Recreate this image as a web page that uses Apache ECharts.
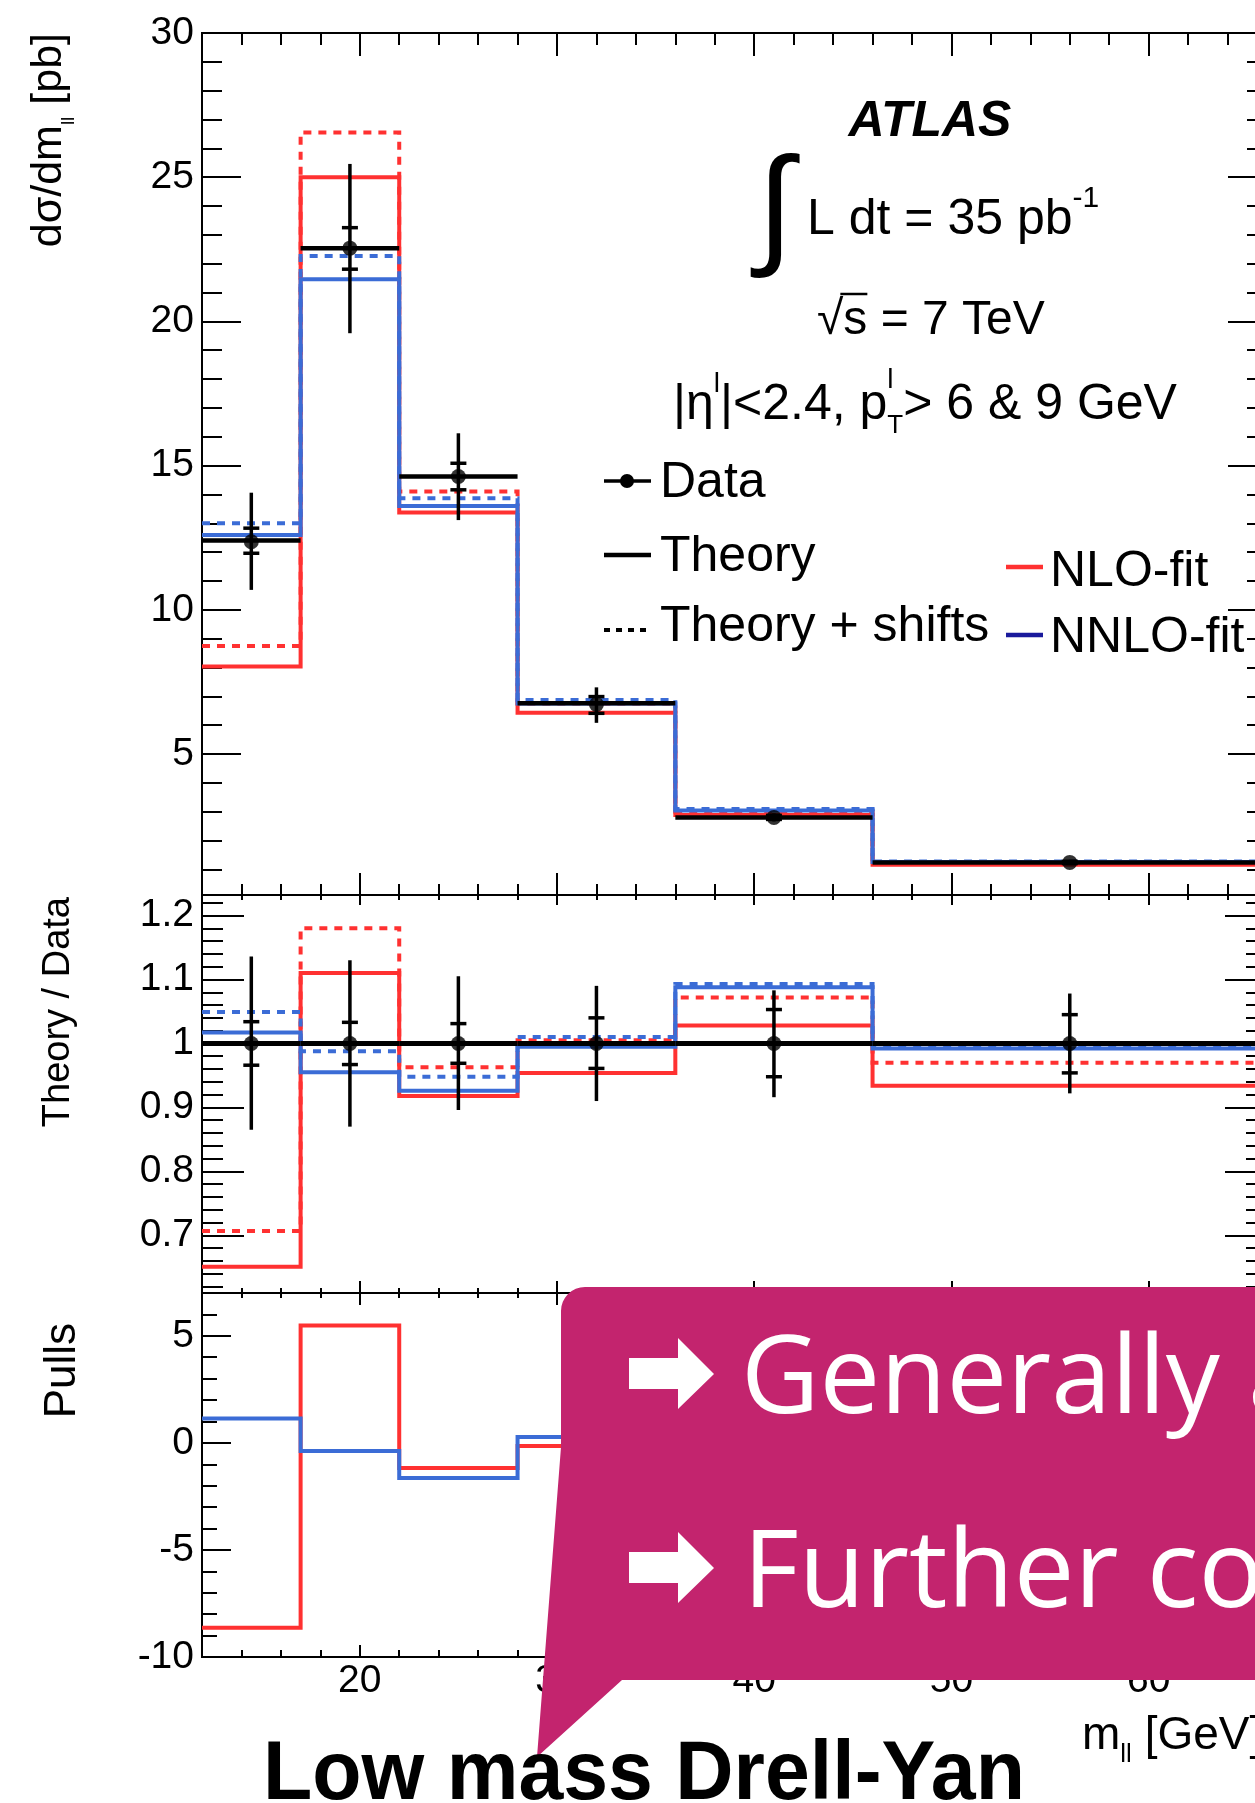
<!DOCTYPE html>
<html>
<head>
<meta charset="utf-8">
<title>Low mass Drell-Yan</title>
<script src="https://cdn.jsdelivr.net/npm/echarts@6.0.0/dist/echarts.min.js"></script>
<style>
  html, body { margin: 0; padding: 0; background: #fff; overflow: hidden; }
  #chart { width: 1290px; height: 1803px; }
</style>
</head>
<body>
<div id="chart"></div>
<script>
// m_ll binning [GeV]
const binEdges = [12, 17, 22, 28, 36, 46, 66];
const binCentres = [14.5, 19.5, 25, 32, 41, 56];

// top panel: dsigma/dm_ll [pb]
const xsecData = [12.36, 22.54, 14.62, 6.72, 2.80, 1.24];
const xsecTotLo = [10.69, 19.59, 13.11, 6.08, 2.66, 1.17];
const xsecTotHi = [14.06, 25.46, 16.12, 7.31, 2.94, 1.31];
const xsecStatLo = [11.96, 21.81, 14.16, 6.41, 2.73, 1.20];
const xsecStatHi = [12.83, 23.25, 15.08, 6.99, 2.87, 1.28];
const xsecTheory = [12.40, 22.54, 14.62, 6.76, 2.80, 1.24];
const xsecNlo = [8.03, 25.00, 13.37, 6.43, 2.88, 1.16];
const xsecNloShift = [8.74, 26.55, 14.10, 6.75, 3.00, 1.20];
const xsecNnlo = [12.59, 21.46, 13.60, 6.75, 3.04, 1.25];
const xsecNnloShift = [13.00, 22.27, 13.87, 6.87, 3.09, 1.27];

// middle panel: theory / data
const ratioData = [1, 1, 1, 1, 1, 1];
const ratioTotLo = [0.865, 0.870, 0.896, 0.910, 0.916, 0.922];
const ratioTotHi = [1.136, 1.130, 1.105, 1.090, 1.083, 1.078];
const ratioStatLo = [0.966, 0.967, 0.969, 0.961, 0.948, 0.954];
const ratioStatHi = [1.034, 1.033, 1.031, 1.040, 1.053, 1.045];
const ratioTheory = [1, 1, 1, 1, 1, 1];
const ratioNlo = [0.651, 1.110, 0.918, 0.954, 1.028, 0.934];
const ratioNloShift = [0.707, 1.180, 0.963, 1.005, 1.072, 0.970];
const ratioNnlo = [1.017, 0.955, 0.926, 0.995, 1.088, 0.992];
const ratioNnloShift = [1.049, 0.988, 0.948, 1.010, 1.093, 0.997];

// bottom panel: pulls
const pullNlo = [-8.63, 5.48, -1.17, -0.14, 0.5, -1.0];
const pullNnlo = [1.14, -0.38, -1.64, 0.28, 1.1, -0.1];

// tick labels
const xLabels = [20, 30, 40, 50, 60];
const xMinor = [14, 16, 18, 22, 24, 26, 28, 32, 34, 36, 38, 42, 44, 46, 48, 52, 54, 56, 58, 62, 64];
const xsecLabels = [5, 10, 15, 20, 25, 30];
const ratioLabels = [0.7, 0.8, 0.9, 1, 1.1, 1.2];
const pullLabels = [-10, -5, 0, 5];

const ROOT_FONT = '"Liberation Sans", Arial, Helvetica, sans-serif';
const SLIDE_FONT = '"Open Sans", "Noto Sans", sans-serif';
const RED = '#ff3131';
const BLUE = '#3b6cd6';
const NAVY = '#1a1a9c';
const PINK = '#c3246e';

function minorTicks(lo, hi, step, majors) {
  const out = [];
  const n = Math.round((hi - lo) / step);
  for (let i = 0; i <= n; i++) {
    const v = +(lo + i * step).toFixed(4);
    if (!majors.some(m => Math.abs(m - v) < 1e-6)) out.push(v);
  }
  return out;
}

const panels = [
  { top: 33, height: 862, min: 0.11, max: 30, labels: xsecLabels, minor: minorTicks(1, 29, 1, xsecLabels),
    yLen: [39, 20], topLen: [23, 12], botLen: [22, 11] },
  { top: 895, height: 398, min: 0.61, max: 1.232, labels: ratioLabels, minor: minorTicks(0.62, 1.22, 0.02, ratioLabels),
    yLen: [42, 21], topLen: [10, 5], botLen: [12, 5] },
  { top: 1293, height: 364, min: -10, max: 7, labels: pullLabels, minor: minorTicks(-9, 6, 1, pullLabels),
    yLen: [29, 15], topLen: [12, 5], botLen: [12, 7], xText: true }
];

function axis(grid, pos, min, max, ticks, len, labelValues, isX) {
  const a = {
    type: 'value', gridIndex: grid, position: pos, min, max, silent: true,
    axisLine: { show: true, onZero: false, lineStyle: { color: '#000', width: 2 } },
    axisTick: { show: true, inside: true, length: len, customValues: ticks, lineStyle: { color: '#000', width: 2 } },
    axisLabel: { show: false },
    splitLine: { show: false },
    minorTick: { show: false }
  };
  if (labelValues) {
    a.axisLabel = { show: true, customValues: labelValues, fontFamily: ROOT_FONT, fontSize: 39,
      color: '#000', margin: isX ? 5 : 8 };
  }
  return a;
}

const grids = [], xAxes = [], yAxes = [];
panels.forEach((p, g) => {
  grids.push({ left: 202, top: p.top, width: 1065, height: p.height, outerBoundsMode: 'none' });
  xAxes.push(axis(g, 'bottom', 12, 66, xLabels, p.botLen[0], p.xText ? xLabels : null, true));
  xAxes.push(axis(g, 'bottom', 12, 66, xMinor, p.botLen[1]));
  xAxes.push(axis(g, 'top', 12, 66, xLabels, p.topLen[0]));
  xAxes.push(axis(g, 'top', 12, 66, xMinor, p.topLen[1]));
  yAxes.push(axis(g, 'left', p.min, p.max, p.labels, p.yLen[0], p.labels));
  yAxes.push(axis(g, 'left', p.min, p.max, p.minor, p.yLen[1]));
  yAxes.push(axis(g, 'right', p.min, p.max, p.labels, p.yLen[0]));
  yAxes.push(axis(g, 'right', p.min, p.max, p.minor, p.yLen[1]));
});

function stepData(vals) {
  const pts = vals.map((v, i) => [binEdges[i], v]);
  pts.push([binEdges[binEdges.length - 1], vals[vals.length - 1]]);
  return pts;
}

function histo(g, vals, color, dotted, z) {
  return {
    type: 'line', step: 'end', xAxisIndex: g * 4, yAxisIndex: g * 4, data: stepData(vals),
    symbol: 'none', silent: true, z,
    lineStyle: { color, width: 4, type: dotted ? [8, 7] : 'solid', join: 'miter' }
  };
}

function theoryLines(g, vals, width) {
  return {
    type: 'custom', xAxisIndex: g * 4, yAxisIndex: g * 4, silent: true, z: 6,
    data: vals.map((v, i) => [binEdges[i], binEdges[i + 1], v]),
    encode: { x: [0, 1], y: 2 },
    renderItem(params, api) {
      const a = api.coord([api.value(0), api.value(2)]);
      const b = api.coord([api.value(1), api.value(2)]);
      return { type: 'line', shape: { x1: a[0], y1: a[1], x2: b[0], y2: b[1] },
        style: { stroke: '#000', lineWidth: width } };
    }
  };
}

function errorBars(g, totLo, totHi, statLo, statHi) {
  return {
    type: 'custom', xAxisIndex: g * 4, yAxisIndex: g * 4, silent: true, z: 7,
    data: binCentres.map((x, i) => [x, totLo[i], totHi[i], statLo[i], statHi[i]]),
    encode: { x: 0, y: [1, 2, 3, 4] },
    renderItem(params, api) {
      const x = api.value(0);
      const lo = api.coord([x, api.value(1)]);
      const hi = api.coord([x, api.value(2)]);
      const sLo = api.coord([x, api.value(3)]);
      const sHi = api.coord([x, api.value(4)]);
      const style = { stroke: '#000', lineWidth: 3.5 };
      return { type: 'group', children: [
        { type: 'line', shape: { x1: lo[0], y1: lo[1], x2: hi[0], y2: hi[1] }, style },
        { type: 'line', shape: { x1: sLo[0] - 8, y1: sLo[1], x2: sLo[0] + 8, y2: sLo[1] }, style },
        { type: 'line', shape: { x1: sHi[0] - 8, y1: sHi[1], x2: sHi[0] + 8, y2: sHi[1] }, style }
      ] };
    }
  };
}

function markers(g, vals) {
  return {
    type: 'scatter', xAxisIndex: g * 4, yAxisIndex: g * 4, silent: true, z: 8,
    data: binCentres.map((x, i) => [x, vals[i]]),
    symbol: 'circle', symbolSize: 15, itemStyle: { color: '#000' }
  };
}

const series = [
  histo(0, xsecNloShift, RED, true, 3),
  histo(0, xsecNlo, RED, false, 3),
  histo(0, xsecNnloShift, BLUE, true, 4),
  histo(0, xsecNnlo, BLUE, false, 4),
  theoryLines(0, xsecTheory, 4.5),
  errorBars(0, xsecTotLo, xsecTotHi, xsecStatLo, xsecStatHi),
  markers(0, xsecData),

  histo(1, ratioNloShift, RED, true, 3),
  histo(1, ratioNlo, RED, false, 3),
  histo(1, ratioNnloShift, BLUE, true, 4),
  histo(1, ratioNnlo, BLUE, false, 4),
  theoryLines(1, ratioTheory, 5),
  errorBars(1, ratioTotLo, ratioTotHi, ratioStatLo, ratioStatHi),
  markers(1, ratioData),

  histo(2, pullNlo, RED, false, 3),
  histo(2, pullNnlo, BLUE, false, 4)
];

// ---- text helpers ----
const measureCtx = document.createElement('canvas').getContext('2d');
function fontOf(size, o) {
  return (o.italic ? 'italic ' : '') + (o.weight || 'normal') + ' ' + size + 'px ' + (o.family || ROOT_FONT);
}
function measure(text, f) { measureCtx.font = f; return measureCtx.measureText(text).width; }

// x, baseline -> centred text element
function label(x, base, text, size, o = {}) {
  const align = o.align || 'left';
  return {
    type: 'text', x, y: base - 0.29 * size, z: o.z || 60, silent: true, scaleX: o.scaleX || 1,
    style: { text, font: fontOf(size, o), fill: o.color || '#000',
      textAlign: align, align, textVerticalAlign: 'middle', verticalAlign: 'middle' }
  };
}

function run(x0, base, pieces, o = {}) {
  let x = x0;
  const els = [];
  pieces.forEach(p => {
    els.push(label(x, base + (p.dy || 0), p.t, p.size, o));
    if (!p.stay) x += measure(p.t, fontOf(p.size, o));
  });
  return els;
}

function vTitle(xBase, yTop, pieces) {
  const total = pieces.reduce((s, p) => s + measure(p.t, fontOf(p.size, {})), 0);
  return { type: 'group', x: xBase, y: yTop, rotation: Math.PI / 2, children: run(-total, 0, pieces) };
}

function seg(x1, y1, x2, y2, color, width, dash, z) {
  return { type: 'line', z: z || 60, silent: true, shape: { x1, y1, x2, y2 },
    style: { stroke: color, lineWidth: width, lineDash: dash || null } };
}

// speech-bubble outline
function bubblePoints() {
  const r = 24, cx = 561 + r, cy = 1287 + r;
  const pts = [[1300, 1287], [1300, 1680], [622, 1680], [537, 1757], [561, 1447]];
  for (let i = 0; i <= 8; i++) {
    const a = Math.PI + (i / 8) * (Math.PI / 2);
    pts.push([cx + r * Math.cos(a), cy + r * Math.sin(a)]);
  }
  return pts;
}
function arrow(y) {
  return { type: 'polygon', z: 81, silent: true,
    shape: { points: [[629, y - 16], [678, y - 16], [678, y - 36], [714, y], [678, y + 35], [678, y + 15], [629, y + 15]] },
    style: { fill: '#fff' } };
}

const sqrtW = measure('√', fontOf(48, {}));
const sW = measure('s', fontOf(48, {}));

const notes = [
  label(930, 137, 'ATLAS', 50, { weight: 'bold', italic: true, align: 'center' }),
  label(775, 214 + 0.29 * 132, '∫', 132, { align: 'center' }),
  ...run(807, 235, [{ t: 'L dt = 35 pb', size: 50 }, { t: '-1', size: 30, dy: -28 }]),
  label(817, 335, '√s = 7 TeV', 48),
  seg(817 + sqrtW - 3, 294, 817 + sqrtW + sW, 294, '#000', 2.5),
  ...run(673, 420, [
    { t: '|η', size: 50 }, { t: 'l', size: 28, dy: -28 }, { t: '|<2.4, p', size: 50 },
    { t: 'l', size: 28, dy: -32, stay: true }, { t: 'T', size: 26, dy: 13 }, { t: '> 6 & 9 GeV', size: 50 }
  ]),

  // legend
  seg(604, 481, 651, 481, '#000', 3.5),
  { type: 'circle', z: 60, silent: true, shape: { cx: 627, cy: 481, r: 7 }, style: { fill: '#000' } },
  label(660, 498, 'Data', 50),
  seg(604, 555, 651, 555, '#000', 4.5),
  label(660, 572, 'Theory', 50),
  seg(604, 630, 651, 630, '#000', 4, [6, 6]),
  label(660, 642, 'Theory + shifts', 50),
  seg(1006, 567, 1043, 567, RED, 4.5),
  label(1050, 587, 'NLO-fit', 50),
  seg(1006, 635, 1043, 635, NAVY, 4.5),
  label(1050, 653, 'NNLO-fit', 50),

  // axis titles
  vTitle(62, 33, [{ t: 'dσ/dm', size: 43 }, { t: 'll', size: 19, dy: 12 }, { t: ' [pb]', size: 43 }]),
  vTitle(70, 897, [{ t: 'Theory / Data', size: 38 }]),
  vTitle(76, 1323, [{ t: 'Pulls', size: 44 }]),
  ...run(1082, 1750, [{ t: 'm', size: 46 }, { t: 'll', size: 26, dy: 12 }, { t: ' [GeV]', size: 46 }]),

  // slide overlay
  { type: 'polygon', z: 80, silent: true, shape: { points: bubblePoints() }, style: { fill: PINK } },
  arrow(1374),
  arrow(1568),
  label(741, 1414, 'Generally a', 108, { family: SLIDE_FONT, color: '#fff', z: 82 }),
  label(743, 1608, 'Further co', 108, { family: SLIDE_FONT, color: '#fff', z: 82 }),
  label(644, 1800, 'Low mass Drell-Yan', 84, { weight: 'bold', align: 'center', scaleX: 0.96, z: 90 })
];

const chart = echarts.init(document.getElementById('chart'));
chart.setOption({
  animation: false,
  backgroundColor: '#fff',
  textStyle: { fontFamily: ROOT_FONT },
  grid: grids,
  xAxis: xAxes,
  yAxis: yAxes,
  series,
  graphic: { elements: notes }
});
</script>
</body>
</html>
